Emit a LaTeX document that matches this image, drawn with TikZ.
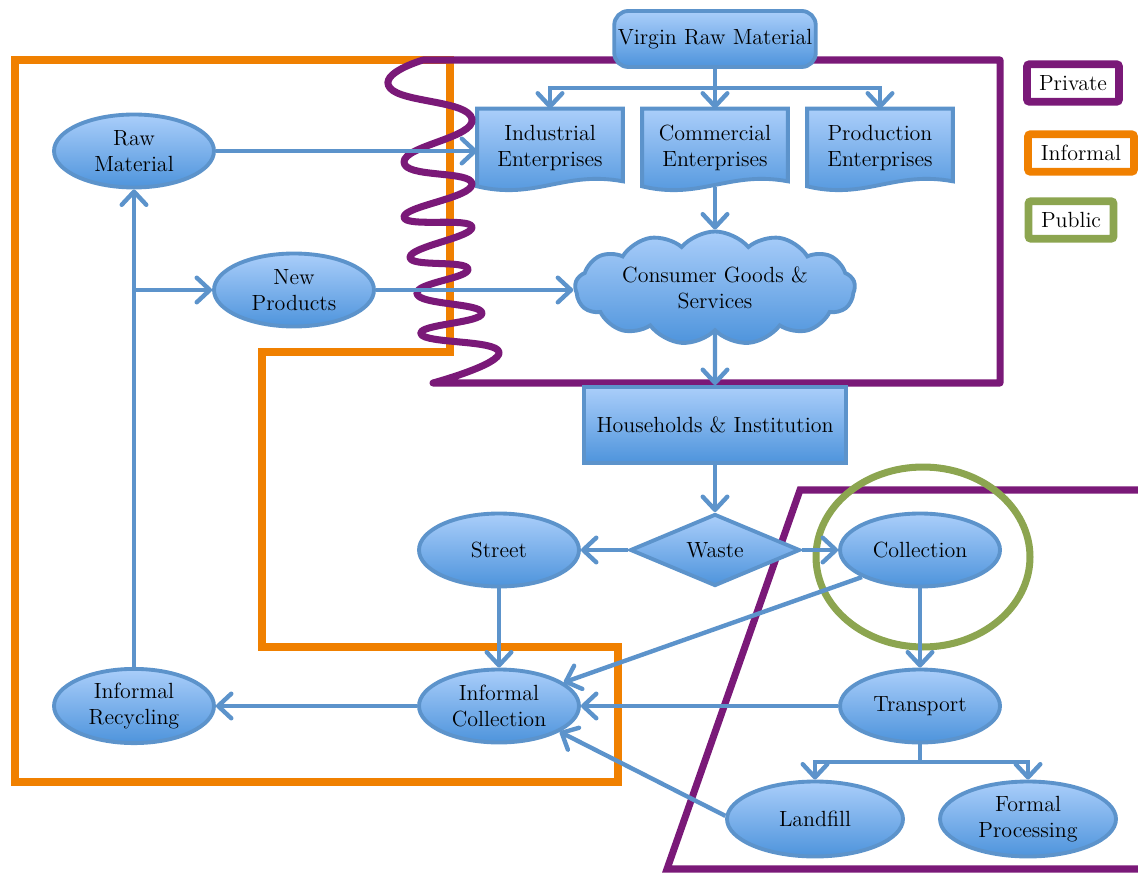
\documentclass[tikz,border=0pt]{standalone}
\usetikzlibrary{arrows.meta,shapes.geometric,shapes.symbols,backgrounds,calc}

\definecolor{flowblue}{RGB}{92,147,203}
\definecolor{filltop}{RGB}{170,206,250}
\definecolor{fillbot}{RGB}{78,148,220}
\definecolor{privcol}{RGB}{122,25,120}
\definecolor{infcol}{RGB}{240,128,0}
\definecolor{pubcol}{RGB}{140,165,80}

\tikzset{
  flowbox/.style={draw=flowblue, line width=2.2pt, top color=filltop, bottom color=fillbot,
    align=center, font=\fontsize{12.5}{14.5}\selectfont, inner sep=2pt},
  oval/.style={flowbox, ellipse, minimum width=3.2cm, minimum height=1.46cm},
  docnode/.style={align=center, font=\fontsize{12.5}{14.5}\selectfont, minimum width=2.9cm, minimum height=1.56cm, inner sep=2pt},
  flow/.style={draw=flowblue, line width=2.5pt, -{Straight Barb[length=7.5pt,width=14pt,round]}},
  flowline/.style={draw=flowblue, line width=2.5pt},
  zone/.style={line width=4pt},
  legendbox/.style={draw, line width=4.5pt, rounded corners=1.5pt, fill=white,
    font=\fontsize{12.5}{14.5}\selectfont, minimum height=0.75cm}
}

% wavy-bottom document shape behind a named node
\newcommand{\docshape}[1]{%
  \path[flowbox] (#1.north west) -- (#1.north east) -- ([yshift=0.12cm]#1.south east)
    .. controls ($(#1.south east)!0.4!(#1.south west)+(0,0.34cm)$)
    and ($(#1.south west)!0.4!(#1.south east)+(0,-0.26cm)$) .. ([yshift=0.02cm]#1.south west) -- cycle;}

\begin{document}
\begin{tikzpicture}[x=0.02cm,y=-0.02cm]
\useasboundingbox (0,0) rectangle (1138,874);

% sectors
\draw[zone, infcol, line join=miter] (15,60) -- (450,60) -- (450,352) -- (262,352) -- (262,647) -- (618,647) -- (618,782) -- (15,782) -- cycle;
\draw[zone, privcol, line cap=round, line join=round] plot[smooth, tension=0.9] coordinates {(423,60) (390,88) (472,119) (404,162) (472,184) (404,217) (472,227) (410,257) (468,269) (417,294) (482,313) (421,334) (499,352) (433,383)} -- (1000,383) -- (1000,60) -- cycle;
\draw[zone, privcol, line join=miter] (1140,490) -- (800,490) -- (667,869) -- (1140,869);
\draw[zone, pubcol] (923,557) ellipse [x radius=2.14cm, y radius=1.8cm];

% top row
\node[flowbox, rounded corners=8pt, minimum width=3.9cm, minimum height=1.12cm] (virgin) at (715,39) {Virgin Raw Material};
\node[docnode] (industrial) at (550,148) {Industrial\\Enterprises};
\node[docnode] (commercial) at (715,148) {Commercial\\Enterprises};
\node[docnode] (production) at (880,148) {Production\\Enterprises};
\begin{scope}[on background layer]
\docshape{industrial}
\docshape{commercial}
\docshape{production}
\end{scope}

\node[oval] (raw) at (134,151) {Raw\\Material};
\node[oval] (newprod) at (294,290) {New\\Products};
\node[flowbox, cloud, cloud puffs=13, cloud puff arc=100, aspect=3.2, minimum width=5.6cm, minimum height=1.8cm] (goods) at (715,288) {Consumer Goods \&\\Services};
\node[flowbox, minimum width=5.24cm, minimum height=1.52cm] (house) at (715,425) {Households \& Institution};
\node[flowbox, diamond, aspect=2.3, minimum width=3.4cm, minimum height=1.44cm, inner sep=0pt] (waste) at (715,550) {Waste};
\node[oval] (street) at (499,550) {Street};
\node[oval] (collection) at (920,550) {Collection};
\node[oval] (transport) at (920,706) {Transport};
\node[oval] (infcoll) at (499,706) {Informal\\Collection};
\node[oval] (infrec) at (134,706) {Informal\\Recycling};
\node[oval, minimum width=3.52cm, minimum height=1.5cm] (landfill) at (815,819) {Landfill};
\node[oval, minimum width=3.52cm, minimum height=1.5cm] (formal) at (1028,819) {Formal\\Processing};

% legend
\node[legendbox, draw=privcol, minimum width=1.84cm] (private) at (1073,83) {Private};
\node[legendbox, draw=infcol, minimum width=2.12cm] (informal) at (1081,153) {Informal};
\node[legendbox, draw=pubcol, minimum width=1.7cm] (public) at (1071,220) {Public};

% flows
\coordinate (vbus) at (715,88);
\draw[flow] (virgin.south) -- (commercial.north);
\draw[flow] (vbus) -| (industrial.north);
\draw[flow] (vbus) -| (production.north);
\draw[flow] (raw.east) -- (raw.east -| industrial.west);
\draw[flow] (commercial.south) -- (goods.north);
\draw[flow] (newprod.east) -- (newprod.east -| goods.west);
\draw[flow] (goods.south) -- (house.north);
\draw[flow] (house.south) -- (waste.north);
\draw[flow] (waste.west) -- (street.east);
\draw[flow] (waste.east) -- (collection.west);
\draw[flow] (street.south) -- (infcoll.north);
\draw[flow] (collection.205) -- (infcoll.20);
\draw[flow] (collection.south) -- (transport.north);
\draw[flow] (transport.west) -- (infcoll.east);
\coordinate (tbus) at (920,762);
\draw[flowline] (transport.south) -- (tbus);
\draw[flow] (tbus) -| (landfill.north);
\draw[flow] (tbus) -| (formal.north);
\draw[flow] (landfill.178) -- (infcoll.-23);
\draw[flow] (infcoll.west) -- (infrec.east);
\draw[flow] (infrec.north) -- (raw.south);
\coordinate (branch) at (134,290);
\draw[flow] (branch) -- (newprod.west);
\end{tikzpicture}
\end{document}
